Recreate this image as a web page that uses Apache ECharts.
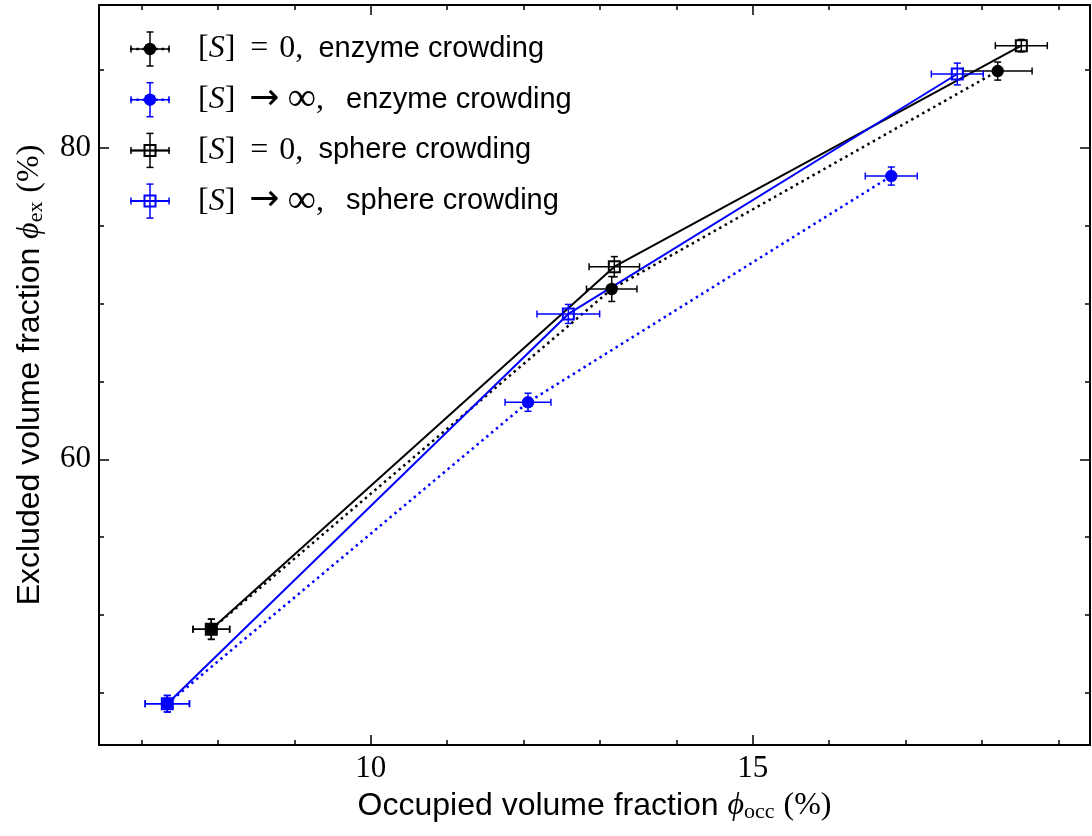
<!DOCTYPE html>
<html lang="en">
  <head>
    <meta charset="utf-8" />
    <title>Excluded vs occupied volume fraction</title>
    <script src="https://cdn.jsdelivr.net/npm/echarts@6/dist/echarts.min.js"></script>
  </head>
  <body style="margin: 0; background: #fff;">
    <div id="main" style="width: 1092px; height: 836px;"></div>
    <script type="text/javascript">
      // [S] = 0, enzyme crowding
      const occEnzymeS0 = [7.914, 13.155, 18.207];
      const exEnzymeS0 = [49.09, 70.93, 84.92];
      const occErrEnzymeS0 = [0.24, 0.33, 0.45];
      const exErrEnzymeS0 = [0.65, 0.8, 0.58];

      // [S] -> inf, enzyme crowding
      const occEnzymeInf = [7.338, 12.059, 16.814];
      const exEnzymeInf = [44.31, 63.66, 78.18];
      const occErrEnzymeInf = [0.29, 0.30, 0.34];
      const exErrEnzymeInf = [0.53, 0.58, 0.58];

      // [S] = 0, sphere crowding
      const occSphereS0 = [7.914, 13.189, 18.516];
      const exSphereS0 = [49.09, 72.36, 86.55];
      const occErrSphereS0 = [0.24, 0.33, 0.34];
      const exErrSphereS0 = [0.65, 0.65, 0.4];

      // [S] -> inf, sphere crowding
      const occSphereInf = [7.338, 12.587, 17.678];
      const exSphereInf = [44.31, 69.33, 84.73];
      const occErrSphereInf = [0.29, 0.41, 0.34];
      const exErrSphereInf = [0.53, 0.61, 0.7];

      const xMajor = [10, 15];
      const xMinor = [7, 8, 9, 11, 12, 13, 14, 16, 17, 18, 19];
      const yMajor = [60, 80];
      const yMinor = [45, 50, 55, 65, 70, 75, 85];

      const legendLabels = [
        '{m|[}{mi|S}{m|]}{op|=}{m|0,}{sp| }{t|enzyme crowding}',
        '{m|[}{mi|S}{m|]}{ar|→}{inf|∞}{m|,}{sp2| }{t|enzyme crowding}',
        '{m|[}{mi|S}{m|]}{op|=}{m|0,}{sp| }{t|sphere crowding}',
        '{m|[}{mi|S}{m|]}{ar|→}{inf|∞}{m|,}{sp2| }{t|sphere crowding}'
      ];

      const BLUE = '#0000ff';
      const BLACK = '#000000';
      const DOTS = [2.5, 3.8];
      const SANS = '"Liberation Sans", Arial, sans-serif';
      const SERIF = '"Liberation Serif", "DejaVu Serif", serif';

      const myChart = echarts.init(document.getElementById('main'));

      const zip = (xs, ys, xe, ye) => xs.map((x, i) => [x, ys[i], xe[i], ye[i]]);

      const drawErr = (cx, cy, l, r, t, b, color, marker) => {
        const st = { stroke: color, lineWidth: 1.5 };
        const cap = 3.5;
        const kids = [
          { type: 'line', shape: { x1: l, y1: cy, x2: r, y2: cy }, style: st },
          { type: 'line', shape: { x1: l, y1: cy - cap, x2: l, y2: cy + cap }, style: st },
          { type: 'line', shape: { x1: r, y1: cy - cap, x2: r, y2: cy + cap }, style: st },
          { type: 'line', shape: { x1: cx, y1: t, x2: cx, y2: b }, style: st },
          { type: 'line', shape: { x1: cx - cap, y1: t, x2: cx + cap, y2: t }, style: st },
          { type: 'line', shape: { x1: cx - cap, y1: b, x2: cx + cap, y2: b }, style: st }
        ];
        if (marker === 'circle') {
          kids.push({ type: 'circle', shape: { cx: cx, cy: cy, r: 6.2 }, style: { fill: color } });
        } else {
          kids.push({
            type: 'rect',
            shape: { x: cx - 5.5, y: cy - 5.5, width: 11, height: 11 },
            style: { fill: 'none', stroke: color, lineWidth: 2 }
          });
        }
        return kids;
      };

      const errRender = (marker, color) => (params, api) => {
        const x = api.value(0), y = api.value(1);
        const xe = api.value(2), ye = api.value(3);
        const c = api.coord([x, y]);
        const l = api.coord([x - xe, y])[0];
        const r = api.coord([x + xe, y])[0];
        const t = api.coord([x, y + ye])[1];
        const b = api.coord([x, y - ye])[1];
        return { type: 'group', children: drawErr(c[0], c[1], l, r, t, b, color, marker) };
      };

      const lineSeries = (xs, ys, color, dash, z) => ({
        type: 'line',
        data: xs.map((x, i) => [x, ys[i]]),
        symbol: 'none',
        lineStyle: { color: color, width: dash === 'solid' ? 2 : 2.5, type: dash, cap: 'butt' },
        z: z,
        silent: true
      });

      const errSeries = (rows, marker, color, z) => ({
        type: 'custom',
        data: rows,
        renderItem: errRender(marker, color),
        encode: { x: 0, y: 1 },
        clip: false,
        z: z
      });

      // legend, drawn by hand so the handles look like errorbars
      const legendRows = [
        { color: BLACK, dash: DOTS, marker: 'circle' },
        { color: BLUE, dash: DOTS, marker: 'circle' },
        { color: BLACK, dash: 'solid', marker: 'square' },
        { color: BLUE, dash: 'solid', marker: 'square' }
      ];
      const legendRich = {
        m: { fontFamily: SERIF, fontSize: 32, fill: '#000' },
        mi: { fontFamily: SERIF, fontSize: 32, fontStyle: 'italic', fill: '#000' },
        op: { fontFamily: SERIF, fontSize: 32, fill: '#000', padding: [0, 11, 0, 15] },
        ar: {
          fontFamily: '"DejaVu Sans ExtraLight", "DejaVu Sans", sans-serif',
          fontSize: 36, fill: '#000', padding: [0, 8, 0, 14]
        },
        inf: { fontFamily: SERIF, fontSize: 40, fill: '#000' },
        sp: { fontFamily: SANS, fontSize: 29, fill: '#000', padding: [0, 7, 0, 0] },
        sp2: { fontFamily: SANS, fontSize: 29, fill: '#000', padding: [0, 14, 0, 0] },
        t: { fontFamily: SANS, fontSize: 29, fill: '#000' }
      };
      const legendGraphic = [];
      legendRows.forEach((row, i) => {
        const yy = 49 + i * 50.7;
        legendGraphic.push({
          type: 'line',
          shape: { x1: 130, y1: yy, x2: 170, y2: yy },
          style: { stroke: row.color, lineWidth: row.dash === 'solid' ? 2 : 2.5, lineDash: row.dash === 'solid' ? null : DOTS }
        });
        drawErr(150, yy, 131, 169, yy - 17, yy + 17, row.color, row.marker)
          .forEach((el) => legendGraphic.push(el));
        legendGraphic.push({
          type: 'text',
          x: 198,
          y: yy,
          style: { text: legendLabels[i], verticalAlign: 'middle', rich: legendRich }
        });
      });

      const tickAxis = (dim, pos, values, len, labels, extra) => Object.assign({
        type: 'value',
        position: pos,
        min: dim === 'x' ? 6.444 : 41.66,
        max: dim === 'x' ? 19.415 : 89.16,
        axisLine: { show: false, onZero: false },
        splitLine: { show: false },
        axisTick: {
          show: true, inside: true, length: len, customValues: values,
          lineStyle: { color: '#000', width: 1.5 }
        },
        axisLabel: labels ? {
          show: true, customValues: values, margin: 8,
          fontFamily: SERIF, fontSize: 31, color: '#000'
        } : { show: false }
      }, extra || {});

      const frame = { show: true, onZero: false, lineStyle: { color: '#000', width: 2 } };

      const nameRich = {
        t: { fontFamily: SANS, fontSize: 32, color: '#000' },
        v: { fontFamily: SERIF, fontSize: 32, fontStyle: 'italic', color: '#000' },
        s: { fontFamily: SERIF, fontSize: 22, color: '#000', padding: [12, 0, 0, 0] },
        m: { fontFamily: SERIF, fontSize: 32, color: '#000' }
      };

      const option = {
        animation: false,
        backgroundColor: '#fff',
        grid: { left: 99, right: 2, top: 5, bottom: 91, containLabel: false },
        xAxis: [
          tickAxis('x', 'bottom', xMajor, 10, true, {
            axisLine: frame,
            name: '{t|Occupied volume fraction }{v|ϕ}{s|occ}{t| }{m|(%)}',
            nameLocation: 'middle',
            nameGap: 44,
            nameTextStyle: { rich: nameRich }
          }),
          tickAxis('x', 'bottom', xMinor, 5, false),
          tickAxis('x', 'top', xMajor, 10, false, { axisLine: frame }),
          tickAxis('x', 'top', xMinor, 5, false)
        ],
        yAxis: [
          tickAxis('y', 'left', yMajor, 10, true, {
            axisLine: frame,
            name: '{t|Excluded volume fraction }{v|ϕ}{s|ex}{t| }{m|(%)}',
            nameLocation: 'middle',
            nameGap: 52,
            nameTextStyle: { rich: nameRich }
          }),
          tickAxis('y', 'left', yMinor, 5, false),
          tickAxis('y', 'right', yMajor, 10, false, { axisLine: frame }),
          tickAxis('y', 'right', yMinor, 5, false)
        ],
        series: [
          lineSeries(occEnzymeS0, exEnzymeS0, BLACK, DOTS, 2),
          lineSeries(occEnzymeInf, exEnzymeInf, BLUE, DOTS, 2),
          lineSeries(occSphereS0, exSphereS0, BLACK, 'solid', 2),
          lineSeries(occSphereInf, exSphereInf, BLUE, 'solid', 2),
          errSeries(zip(occEnzymeS0, exEnzymeS0, occErrEnzymeS0, exErrEnzymeS0), 'circle', BLACK, 3),
          errSeries(zip(occEnzymeInf, exEnzymeInf, occErrEnzymeInf, exErrEnzymeInf), 'circle', BLUE, 3),
          errSeries(zip(occSphereS0, exSphereS0, occErrSphereS0, exErrSphereS0), 'square', BLACK, 4),
          errSeries(zip(occSphereInf, exSphereInf, occErrSphereInf, exErrSphereInf), 'square', BLUE, 4)
        ],
        graphic: legendGraphic
      };
      myChart.setOption(option);
    </script>
  </body>
</html>
